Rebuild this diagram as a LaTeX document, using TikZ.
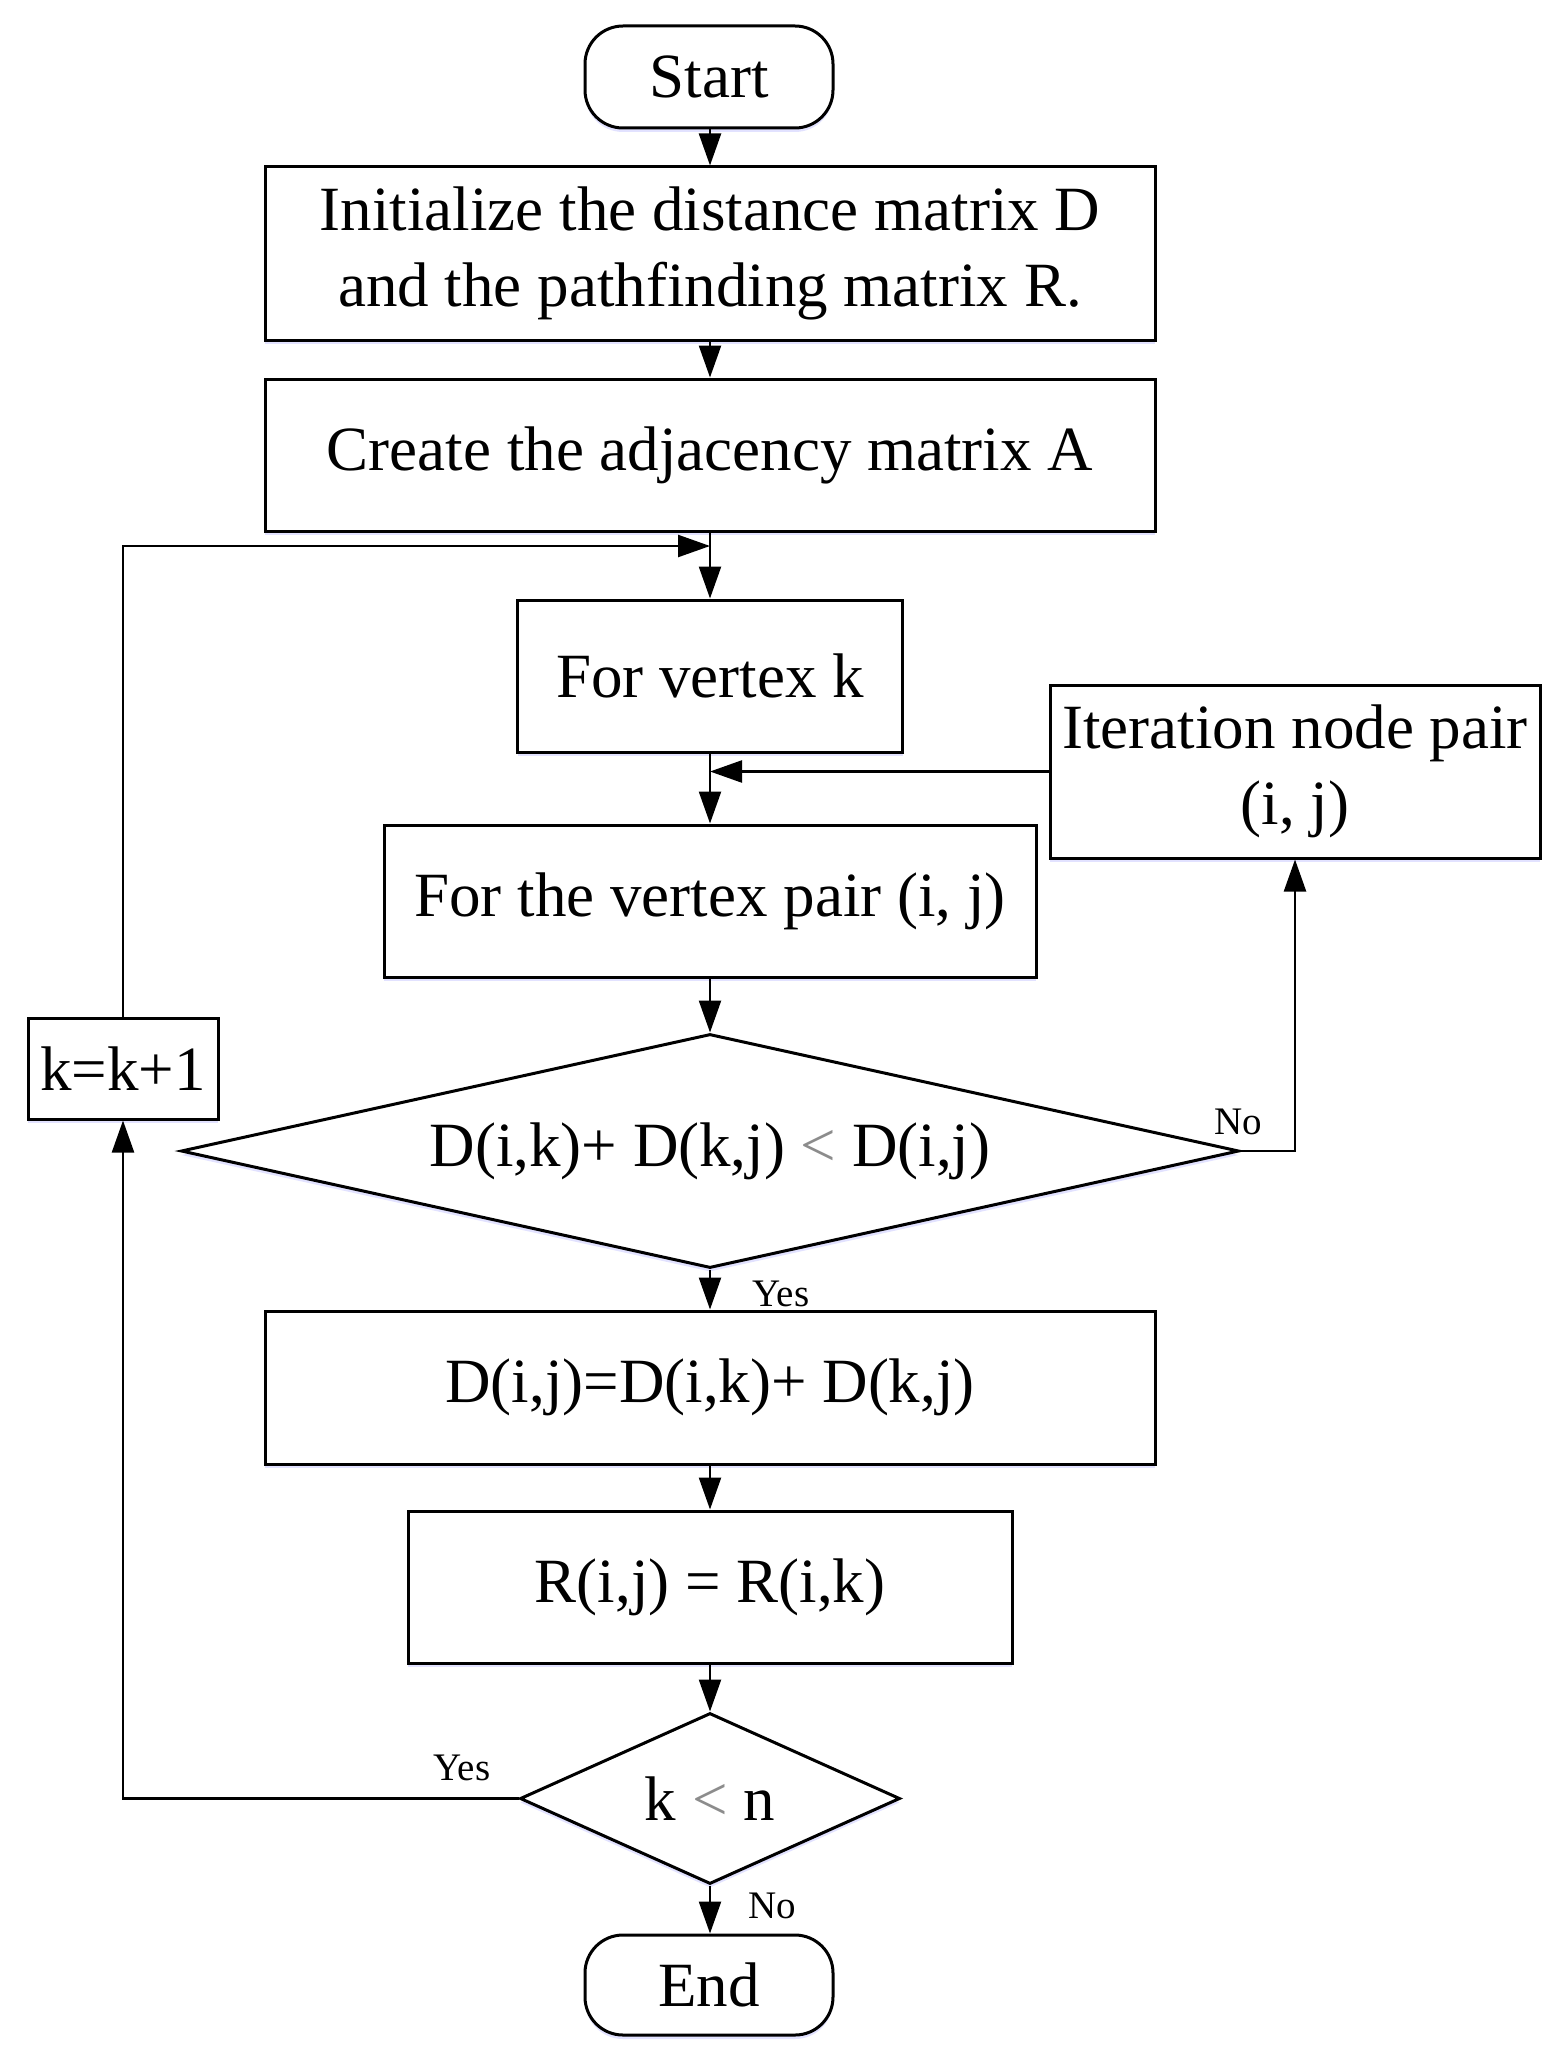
\documentclass[tikz,border=0pt]{standalone}
\usepackage{fontspec}
\setmainfont{Liberation Serif}
\usetikzlibrary{arrows.meta,shapes.geometric,shadows}
\newcommand{\lessgray}{\textcolor{black!45}{<}}
\begin{document}
\begin{tikzpicture}[x=0.5pt,y=-0.5pt,
  box/.style={draw, line width=1.5pt, fill=white, inner sep=0pt, align=center,
    font=\fontsize{31.5}{38}\selectfont,
    drop shadow={shadow xshift=0pt, shadow yshift=-2pt, fill=blue!25, opacity=0.45}},
  term/.style={box, rounded corners=19pt},
  dec/.style={box, diamond},
  conn/.style={line width=1.2pt, -{Triangle[length=16pt,width=11pt]}},
  lab/.style={font=\fontsize{19.5}{22}\selectfont, inner sep=0pt}]
\useasboundingbox (0,0) rectangle (1565,2049);
\node[term, minimum width=124pt, minimum height=51pt] (start) at (709,77) {Start};
\node[box, minimum width=445pt, minimum height=86.5pt] (init) at (710,253.5) {Initialize the distance matrix D\\and the pathfinding matrix R.};
\node[box, minimum width=445pt, minimum height=76pt] (create) at (710,455) {Create the adjacency matrix A};
\node[box, minimum width=192.5pt, minimum height=76pt] (forv) at (710,676) {For vertex k};
\node[box, minimum width=245pt, minimum height=86.5pt] (iter) at (1295,771.5) {Iteration node pair\\(i, j)};
\node[box, minimum width=326pt, minimum height=76pt] (pair) at (710,901) {For the vertex pair (i, j)};
\node[dec, shape aspect=4.5, minimum width=529pt, minimum height=117pt] (d1) at (710,1151) {D(i,k)+ D(k,j) \lessgray{} D(i,j)};
\node[box, minimum width=95pt, minimum height=50.5pt] (kk) at (123,1068.5) {k=k+1};
\node[box, minimum width=445pt, minimum height=76.5pt] (dbox) at (710,1387.5) {D(i,j)=D(i,k)+ D(k,j)};
\node[box, minimum width=302pt, minimum height=76pt] (rbox) at (710,1587) {R(i,j) = R(i,k)};
\node[dec, shape aspect=2.2, minimum width=190pt, minimum height=85.5pt] (d2) at (710,1798.5) {k \lessgray{} n};
\node[term, minimum width=124pt, minimum height=50pt] (endn) at (709,1985) {End};
\coordinate (loopin) at (710,546);
\draw[conn] (start.south -| init.north) -- (init.north);
\draw[conn] (init.south) -- (create.north);
\draw[conn] (create.south) -- (forv.north);
\draw[conn] (kk.north) |- (loopin);
\draw[conn] (forv.south) -- (pair.north);
\draw[conn] (iter.west) -- (iter.west -| forv.south);
\draw[conn] (pair.south) -- (d1.north);
\draw[conn] (d1.east) -| (iter.south);
\draw[conn] (d1.south) -- (dbox.north);
\draw[conn] (dbox.south) -- (rbox.north);
\draw[conn] (rbox.south) -- (d2.north);
\draw[conn] (d2.west) -| (kk.south);
\draw[conn] (d2.south) -- (endn.north -| d2.south);
\node[lab] (no1) at (1238,1122) {No};
\node[lab] (yes1) at (781,1294) {Yes};
\node[lab] (yes2) at (462,1768) {Yes};
\node[lab] (no2) at (772,1906) {No};
\end{tikzpicture}
\end{document}
